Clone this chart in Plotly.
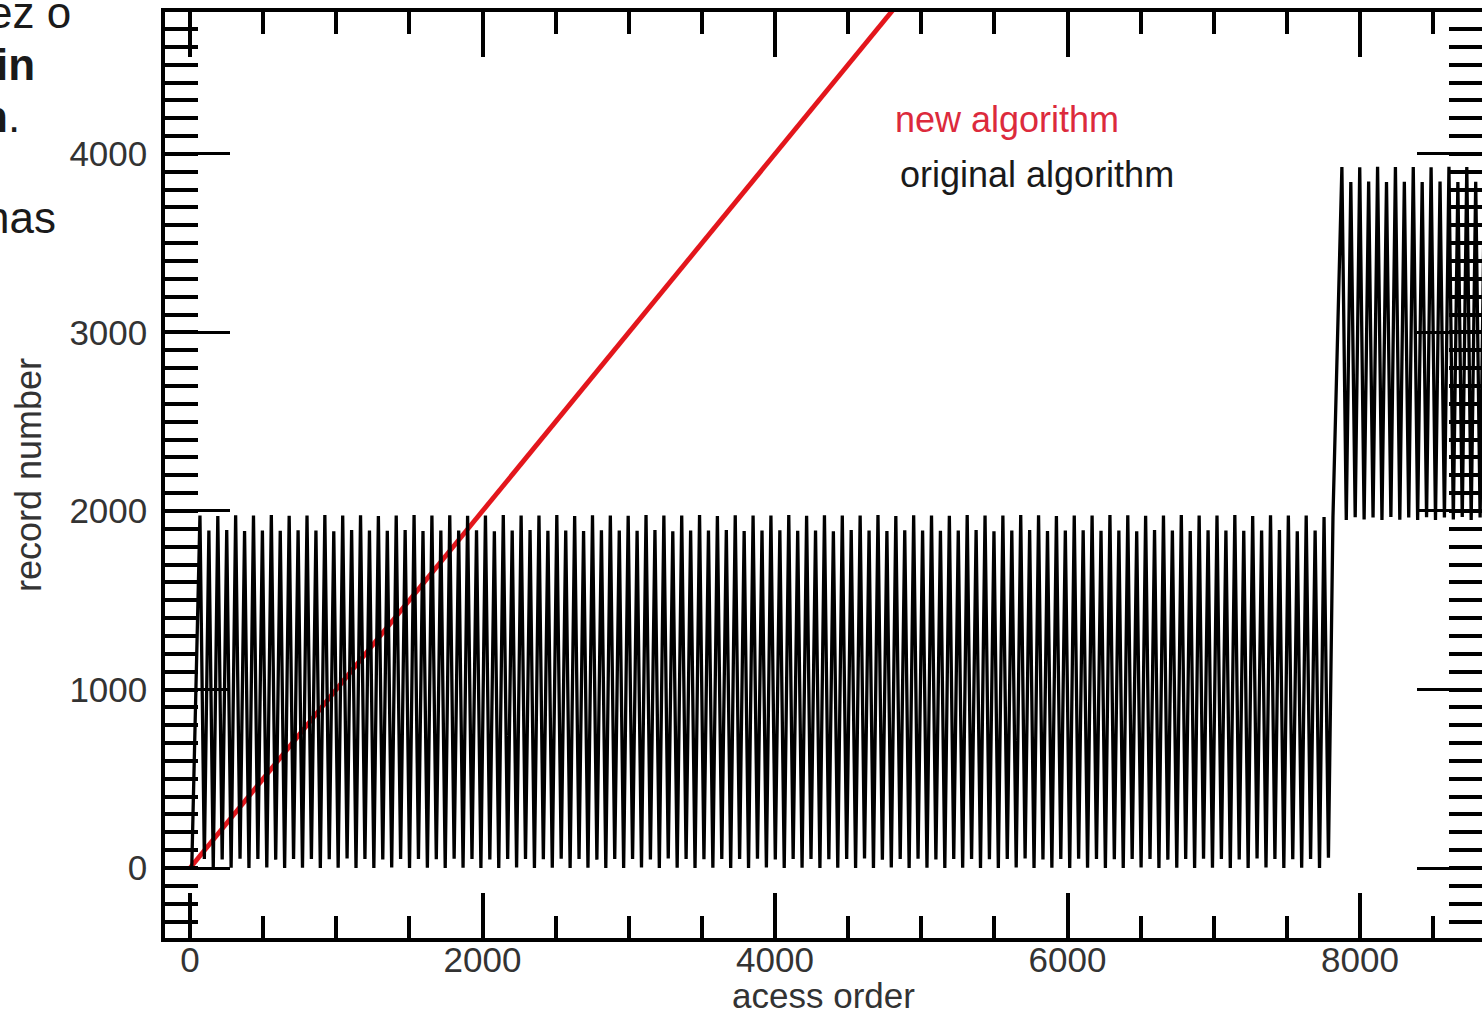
import plotly.graph_objects as go

# ---------------- data ----------------
# "new algorithm": record number equals access order (straight diagonal)
new_x = [0, 9000]
new_y = [0, 9000]

# "original algorithm": vertices of the zig-zag
orig_x = [
    12,
    68, 98, 129, 159, 190, 220, 251, 281,
    312, 342, 373, 403, 434, 464, 495, 525,
    556, 586, 617, 647, 678, 708, 739, 769,
    800, 830, 861, 891, 922, 952, 983, 1013,
    1044, 1074, 1105, 1135, 1166, 1196, 1227, 1257,
    1288, 1318, 1349, 1379, 1410, 1440, 1471, 1501,
    1532, 1562, 1593, 1623, 1654, 1684, 1715, 1745,
    1776, 1806, 1837, 1867, 1898, 1928, 1959, 1989,
    2020, 2050, 2081, 2111, 2142, 2172, 2203, 2233,
    2264, 2294, 2325, 2355, 2386, 2416, 2447, 2477,
    2508, 2538, 2569, 2599, 2630, 2660, 2691, 2721,
    2752, 2782, 2813, 2843, 2874, 2904, 2935, 2965,
    2996, 3026, 3057, 3087, 3118, 3148, 3179, 3209,
    3240, 3270, 3301, 3331, 3362, 3392, 3423, 3453,
    3484, 3514, 3545, 3575, 3606, 3636, 3667, 3697,
    3728, 3758, 3789, 3819, 3850, 3880, 3911, 3941,
    3972, 4002, 4033, 4063, 4094, 4124, 4155, 4185,
    4216, 4246, 4277, 4307, 4338, 4368, 4399, 4429,
    4460, 4490, 4521, 4551, 4582, 4612, 4643, 4673,
    4704, 4734, 4765, 4795, 4826, 4856, 4887, 4917,
    4948, 4978, 5009, 5039, 5070, 5100, 5131, 5161,
    5192, 5222, 5253, 5283, 5314, 5344, 5375, 5405,
    5436, 5466, 5497, 5527, 5558, 5588, 5619, 5649,
    5680, 5710, 5741, 5771, 5802, 5832, 5863, 5893,
    5924, 5954, 5985, 6015, 6046, 6076, 6107, 6137,
    6168, 6198, 6229, 6259, 6290, 6320, 6351, 6381,
    6412, 6442, 6473, 6503, 6534, 6564, 6595, 6625,
    6656, 6686, 6717, 6747, 6778, 6808, 6839, 6869,
    6900, 6930, 6961, 6991, 7022, 7052, 7083, 7113,
    7144, 7174, 7205, 7235, 7266, 7296, 7327, 7357,
    7388, 7418, 7449, 7479, 7510, 7540, 7571, 7601,
    7632, 7662, 7693, 7723, 7754, 7784, 7815,
    7876, 7906, 7937, 7967, 7998, 8028, 8059, 8089,
    8120, 8150, 8181, 8211, 8242, 8272, 8303, 8333,
    8364, 8394, 8425, 8455, 8486, 8516, 8547, 8577,
    8608, 8638, 8669, 8699, 8730, 8760, 8791, 8821,
    8852, 8882, 8913,
]
orig_y = [
    0,
    1975, 50, 1890, 0, 1972, 48, 1893, 2,
    1976, 52, 1888, 0, 1974, 50, 1891, 3,
    1978, 47, 1889, 0, 1973, 51, 1892, 1,
    1975, 50, 1890, 0, 1977, 49, 1887, 2,
    1974, 53, 1893, 0, 1976, 50, 1890, 0,
    1972, 48, 1889, 3, 1975, 51, 1894, 0,
    1977, 50, 1888, 1, 1974, 49, 1891, 0,
    1976, 52, 1890, 2, 1973, 50, 1892, 0,
    1975, 48, 1887, 0, 1978, 51, 1890, 3,
    1974, 50, 1893, 0, 1975, 49, 1889, 1,
    1977, 52, 1891, 0, 1972, 50, 1888, 2,
    1976, 47, 1892, 0, 1975, 51, 1890, 0,
    1973, 50, 1889, 3, 1977, 48, 1894, 0,
    1975, 53, 1887, 1, 1974, 50, 1891, 0,
    1978, 49, 1890, 2, 1972, 51, 1893, 0,
    1976, 50, 1888, 0, 1975, 52, 1890, 3,
    1974, 48, 1892, 0, 1977, 50, 1889, 1,
    1973, 51, 1891, 0, 1976, 49, 1887, 2,
    1975, 50, 1893, 0, 1974, 53, 1890, 0,
    1977, 47, 1888, 3, 1972, 50, 1892, 0,
    1976, 52, 1890, 1, 1975, 48, 1889, 0,
    1973, 50, 1891, 2, 1978, 51, 1894, 0,
    1975, 49, 1887, 0, 1974, 50, 1890, 3,
    1977, 53, 1893, 0, 1976, 48, 1888, 1,
    1972, 50, 1890, 0, 1975, 52, 1892, 2,
    1974, 51, 1889, 0, 1977, 49, 1891, 0,
    1976, 50, 1887, 3, 1973, 50, 1893, 0,
    1975, 47, 1890, 1, 1978, 51, 1888, 0,
    1974, 52, 1892, 2, 1975, 50, 1890, 0,
    1977, 48, 1889, 0, 1972, 53, 1891, 3,
    1976, 50, 1894, 0, 1974, 49, 1887, 1,
    1975, 51, 1890, 0, 1966, 58, 1966,
    3927, 1950, 3843, 1965, 3925, 1952, 3845, 1963,
    3928, 1950, 3842, 1966, 3926, 1951, 3844, 1964,
    3927, 1949, 3843, 1965, 3925, 1950, 3846, 1963,
    3928, 1952, 3842, 1966, 3927, 1950, 3844, 1964,
    3926, 1951, 3843,
]

x_tick_vals = [0, 2000, 4000, 6000, 8000]
x_tick_text = ["0", "2000", "4000", "6000", "8000"]
y_tick_vals = [0, 1000, 2000, 3000, 4000]
y_tick_text = ["0", "1000", "2000", "3000", "4000"]

FONT = "Liberation Sans, Arial, Helvetica, sans-serif"

fig = go.Figure()
fig.add_trace(go.Scatter(x=new_x, y=new_y, mode="lines",
                         line=dict(color="#e3161c", width=4.8),
                         name="new algorithm", showlegend=False))
fig.add_trace(go.Scatter(x=orig_x, y=orig_y, mode="lines",
                         line=dict(color="black", width=3.3),
                         name="original algorithm", showlegend=False))

axis_common = dict(
    showline=True, linecolor="black", linewidth=3.5, mirror="ticks",
    ticks="inside", tickcolor="black", showgrid=False, zeroline=False,
    tickmode="array", automargin=False,
    tickfont=dict(family=FONT, size=35, color="#333333"),
)

fig.update_xaxes(
    range=[-171, 8834], tickvals=x_tick_vals, ticktext=x_tick_text,
    ticklen=45, tickwidth=3.5,
    minor=dict(ticks="inside", ticklen=22, tickwidth=3.5, tickcolor="black",
               dtick=500, tick0=0, showgrid=False),
    title=dict(text="acess order", font=dict(family=FONT, size=35, color="#333333"),
               standoff=20),
    **axis_common,
)
try:
    fig.update_xaxes(ticklabelstandoff=-12)
except Exception:
    fig.update_xaxes(ticklabelstandoff=0)

fig.update_yaxes(
    range=[-392, 4795], tickvals=y_tick_vals, ticktext=y_tick_text,
    ticklen=65, tickwidth=3,
    minor=dict(ticks="inside", ticklen=33, tickwidth=4, tickcolor="black",
               dtick=100, tick0=0, showgrid=False),
    title=dict(text="record number", font=dict(family=FONT, size=36, color="#333333"),
               standoff=18),
    ticklabelstandoff=7,
    **axis_common,
)

# legend-like labels inside the plot
fig.add_annotation(x=0.5528, y=0.8834, xref="paper", yref="paper", xanchor="left",
                   yanchor="middle", text="new algorithm", showarrow=False,
                   font=dict(family=FONT, size=36, color="#dc2a3c"))
fig.add_annotation(x=0.5566, y=0.8240, xref="paper", yref="paper", xanchor="left",
                   yanchor="middle", text="original algorithm", showarrow=False,
                   font=dict(family=FONT, size=36, color="#1a1a1a"))

# fragments of the surrounding document text (cut off at the left edge)
doc_font = dict(family=FONT, size=44, color="#1a1a1a")
for txt, px, py in [("ez o", 73, 12), ("<b>in</b>", 37, 65),
                    ("<b>n</b>.", 22, 117), ("nas", 58, 218)]:
    fig.add_annotation(x=(px - 165) / 1317, y=(938 - py) / 926, xref="paper",
                       yref="paper", xanchor="right", yanchor="middle", text=txt,
                       showarrow=False, font=doc_font)

fig.update_layout(
    width=1482, height=1015,
    margin=dict(l=165, r=0, t=12, b=77, autoexpand=False),
    plot_bgcolor="white", paper_bgcolor="white",
    showlegend=False,
)

fig.write_html("out.html", config={"displayModeBar": False},
               post_script="document.body.style.margin='0';document.body.style.overflow='hidden';")
